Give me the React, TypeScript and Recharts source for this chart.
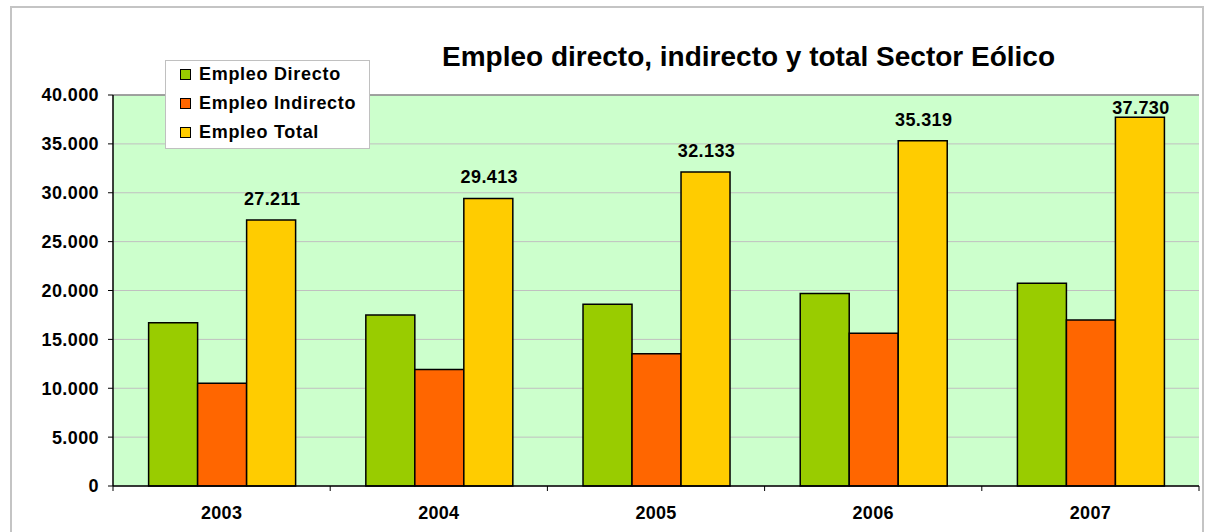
import React from 'react';
import { BarChart, Bar, XAxis, YAxis, CartesianGrid, LabelList, ReferenceLine } from 'recharts';

const years = ['2003', '2004', '2005', '2006', '2007'];
const directo = [16700, 17500, 18600, 19700, 20750];
const indirecto = [10511, 11913, 13533, 15619, 16980];
const total = [27211, 29413, 32133, 35319, 37730];
const yTicks = [0, 5000, 10000, 15000, 20000, 25000, 30000, 35000, 40000];
const seriesKeys = ['directo', 'indirecto', 'total'];
const seriesNames = ['Empleo Directo', 'Empleo Indirecto', 'Empleo Total'];
const seriesColors = ['#99CC00', '#FF6600', '#FFCC00'];
const titleText = 'Empleo directo, indirecto y total Sector Eólico';

const data = years.map((y, i) => ({
  year: y,
  directo: directo[i],
  indirecto: indirecto[i],
  total: total[i],
}));

const FONT = '"Liberation Sans", Arial, sans-serif';

const fmt = (v: any) => String(v).replace(/\B(?=(\d{3})+(?!\d))/g, '.');

const XTick = (props: any) => {
  const { x, y, payload, index, visibleTicksCount } = props;
  const axisY = y - 5;
  const half = payload && payload.offset ? payload.offset : 0;
  const last = index === (visibleTicksCount ?? years.length) - 1;
  return (
    <g>
      <line x1={x - half} x2={x - half} y1={axisY} y2={axisY + 5} stroke="#000" strokeWidth={1} />
      {last && <line x1={x + half} x2={x + half} y1={axisY} y2={axisY + 5} stroke="#000" strokeWidth={1} />}
      <text
        x={x}
        y={axisY + 33}
        textAnchor="middle"
        fontFamily={FONT}
        fontSize={18}
        fontWeight="bold"
        letterSpacing={0.3}
        fill="#000"
      >
        {payload.value}
      </text>
    </g>
  );
};

const TotalLabel = (props: any) => {
  const { x, y, width, value } = props;
  const baseline = Math.max(Number(y) - 15, 114);
  return (
    <text
      x={Number(x) + Number(width) / 2 + 1}
      y={baseline}
      textAnchor="middle"
      fill="#000"
      fontSize={18}
      fontWeight="bold"
      fontFamily={FONT}
      letterSpacing={0.4}
    >
      {fmt(value)}
    </text>
  );
};

export default function App() {
  return (
    <div
      style={{
        position: 'absolute',
        left: 0,
        top: 0,
        width: 1207,
        height: 532,
        overflow: 'hidden',
        background: '#fff',
        fontFamily: FONT,
      }}
    >
      <div
        style={{
          position: 'absolute',
          left: 10,
          top: 6,
          width: 1194,
          height: 560,
          border: '2px solid #C4C4C4',
          boxSizing: 'border-box',
        }}
      />
      <div
        style={{
          position: 'absolute',
          left: 442,
          width: 600,
          top: 40,
          textAlign: 'center',
          fontSize: 28,
          fontWeight: 'bold',
          whiteSpace: 'nowrap',
          color: '#000',
          lineHeight: '34px',
        }}
      >
        {titleText}
      </div>
      <div style={{ position: 'absolute', left: 0, top: 0 }}>
        <BarChart
          width={1207}
          height={532}
          data={data}
          margin={{ top: 95, right: 8, left: 10, bottom: 0 }}
          barGap={0}
          barCategoryGap="16.4%"
        >
          <CartesianGrid
            yAxisId="l"
            vertical={false}
            stroke="#C0C0C0"
            strokeWidth={1}
            fill="#CCFFCC"
            fillOpacity={1}
          />
          <XAxis
            dataKey="year"
            height={46}
            axisLine={{ stroke: '#000', strokeWidth: 1.5 }}
            tickLine={false}
            tickSize={5}
            tickMargin={0}
            tick={<XTick />}
            interval={0}
          />
          <YAxis
            yAxisId="l"
            width={103}
            domain={[0, 40000]}
            ticks={yTicks}
            tickFormatter={fmt}
            axisLine={{ stroke: '#000', strokeWidth: 1.5 }}
            tickLine={{ stroke: '#000' }}
            tickSize={5}
            tickMargin={9}
            tick={{ fill: '#000', fontSize: 18, fontWeight: 'bold', fontFamily: FONT, letterSpacing: 0.4 }}
            interval={0}
          />
          <YAxis
            yAxisId="r"
            orientation="right"
            width={0}
            domain={[0, 40000]}
            ticks={yTicks}
            tick={false}
            tickLine={false}
            axisLine={{ stroke: '#8C8C8C', strokeWidth: 1.5 }}
          />
          <ReferenceLine yAxisId="l" y={40000} stroke="#8C8C8C" strokeWidth={1.5} />
          {seriesKeys.map((k, i) => (
            <Bar
              key={k}
              yAxisId="l"
              dataKey={k}
              name={seriesNames[i]}
              fill={seriesColors[i]}
              stroke="#000"
              strokeWidth={1.5}
              isAnimationActive={false}
            >
              {k === 'total' && <LabelList dataKey="total" content={<TotalLabel />} />}
            </Bar>
          ))}
        </BarChart>
      </div>
      <div
        style={{
          position: 'absolute',
          left: 165,
          top: 60,
          width: 205,
          height: 89,
          background: '#fff',
          border: '1.5px solid #C0C0C0',
          boxSizing: 'border-box',
        }}
      >
        {seriesNames.map((n, i) => (
          <div
            key={n}
            style={{
              position: 'absolute',
              left: 14,
              top: i * 29,
              height: 26,
              display: 'flex',
              alignItems: 'center',
              whiteSpace: 'nowrap',
            }}
          >
            <div
              style={{
                width: 11,
                height: 11,
                background: seriesColors[i],
                border: '1px solid #000',
                boxSizing: 'border-box',
                marginRight: 8,
              }}
            />
            <span style={{ fontSize: 18, fontWeight: 'bold', letterSpacing: 0.7, color: '#000' }}>{n}</span>
          </div>
        ))}
      </div>
    </div>
  );
}
